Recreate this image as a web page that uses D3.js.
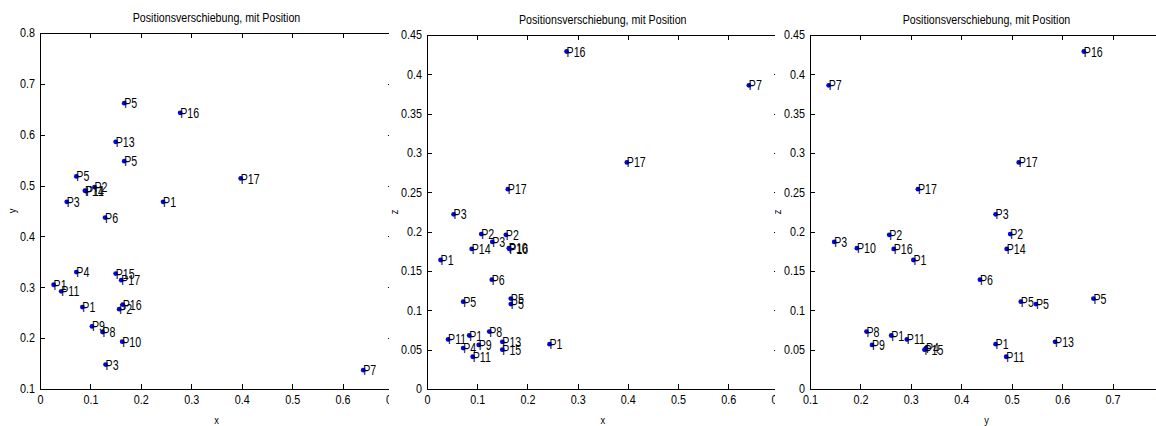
<!DOCTYPE html>
<html>
<head>
<meta charset="utf-8">
<script src="https://cdn.jsdelivr.net/npm/d3@7"></script>
<style>
body { margin: 0; background: #fff; }
svg text { font-family: "Liberation Sans", Arial, sans-serif; fill: #000; }
</style>
</head>
<body>
<svg id="mainsvg" width="1156" height="426"></svg>
<script>
// point labels and 3D coordinates (read from the three projections)
const names = ['P1','P1','P1','P2','P2','P3','P3','P4','P5','P5','P5','P6','P7','P8','P9','P10',
               'P11','P11','P13','P14','P15','P16','P16','P17','P17'];
const xs = [0.027,0.084,0.244,0.108,0.157,0.053,0.130,0.072,0.167,0.167,0.072,0.129,0.641,0.124,0.103,0.163,
            0.042,0.091,0.150,0.089,0.150,0.278,0.164,0.398,0.161];
const ys = [0.305,0.261,0.468,0.497,0.257,0.468,0.148,0.330,0.662,0.548,0.518,0.437,0.137,0.212,0.223,0.193,
            0.292,0.489,0.586,0.490,0.327,0.643,0.266,0.514,0.314];
const zs = [0.164,0.068,0.057,0.197,0.196,0.222,0.187,0.052,0.115,0.108,0.111,0.139,0.386,0.073,0.056,0.179,
            0.063,0.041,0.060,0.178,0.050,0.429,0.178,0.288,0.254];

const title = 'Positionsverschiebung, mit Position';
const xTicks1 = [0,0.1,0.2,0.3,0.4,0.5,0.6,0.7];
const yTicks1 = [0.1,0.2,0.3,0.4,0.5,0.6,0.7,0.8];
const zTicks = [0,0.05,0.1,0.15,0.2,0.25,0.3,0.35,0.4,0.45];
const yTicks3 = [0.1,0.2,0.3,0.4,0.5,0.6,0.7,0.8];

let svg = d3.select('#mainsvg');
const fmt = d => String(+d.toFixed(2));

const panels = [
  {h: xs, v: ys, hdom: [0,0.7], vdom: [0.1,0.8], ht: xTicks1, vt: yTicks1, hl: 'x', vl: 'y',
   x0: 40, x1: 393, top: 33, bot: 389, clipL: 0, clipR: 389, vlx: 12},
  {h: xs, v: zs, hdom: [0,0.7], vdom: [0,0.45], ht: xTicks1, vt: zTicks, hl: 'x', vl: 'z',
   x0: 427, x1: 778.5, top: 35, bot: 389, clipL: 389, clipR: 775, vlx: 394},
  {h: ys, v: zs, hdom: [0.1,0.8], vdom: [0,0.45], ht: yTicks3, vt: zTicks, hl: 'y', vl: 'z',
   x0: 810, x1: 1163, top: 35, bot: 389, clipL: 775, clipR: 1156, vlx: 777}
];

const defs = svg.append('defs');

panels.forEach((p, i) => {
  defs.append('clipPath').attr('id', 'clip' + i)
    .append('rect').attr('x', p.clipL).attr('y', 0)
    .attr('width', p.clipR - p.clipL).attr('height', 426);

  const g = svg.append('g').attr('clip-path', `url(#clip${i})`);

  const hx = d3.scaleLinear().domain(p.hdom).range([p.x0, p.x1]);
  const vy = d3.scaleLinear().domain(p.vdom).range([p.bot, p.top]);

  const styleAxis = sel => {
    sel.selectAll('path, line').attr('stroke', '#000').attr('shape-rendering', 'crispEdges');
    sel.selectAll('text').attr('font-size', 12).attr('fill', '#000');
  };

  // bottom + left with labels, top + right only ticks (all inward)
  g.append('g').attr('transform', `translate(0,${p.bot})`)
    .call(d3.axisBottom(hx).tickValues(p.ht).tickFormat(fmt).tickSize(-5).tickSizeOuter(0).tickPadding(6))
    .call(styleAxis)
    .selectAll('text').attr('transform', 'scale(0.9,1)');
  g.append('g').attr('transform', `translate(0,${p.top})`)
    .call(d3.axisTop(hx).tickValues(p.ht).tickFormat('').tickSize(-5).tickSizeOuter(0))
    .call(styleAxis);
  g.append('g').attr('transform', `translate(${p.x0},0)`)
    .call(d3.axisLeft(vy).tickValues(p.vt).tickFormat(fmt).tickSize(-5).tickSizeOuter(0).tickPadding(5))
    .call(styleAxis)
    .selectAll('text').attr('transform', 'scale(0.9,1)');
  g.append('g').attr('transform', `translate(${p.x1},0)`)
    .call(d3.axisRight(vy).tickValues(p.vt).tickFormat('').tickSize(-5).tickSizeOuter(0))
    .call(styleAxis);

  // keep scaled tick labels anchored at their own position
  g.selectAll('.tick text').attr('transform-origin', function() {
    return `${d3.select(this).attr('x') || 0} ${d3.select(this).attr('y') || 0}`;
  });

  // title
  const cx = (p.x0 + p.x1) / 2;
  g.append('text').attr('transform', `translate(${cx},${p.top - 11}) scale(0.82,1)`)
    .attr('text-anchor', 'middle').attr('font-size', 13).text(title);

  // axis labels
  g.append('text').attr('transform', `translate(${cx},${p.bot + 35}) scale(0.85,1)`)
    .attr('text-anchor', 'middle').attr('font-size', 11).text(p.hl);
  g.append('text').attr('transform', `translate(${p.vlx},${(p.top + p.bot) / 2}) rotate(-90) scale(0.85,1)`)
    .attr('text-anchor', 'middle').attr('dy', '0.35em').attr('font-size', 11).text(p.vl);

  // points + labels
  const pts = g.append('g').selectAll('g').data(names.map((n, k) => ({n, h: p.h[k], v: p.v[k]})))
    .enter().append('g')
    .attr('transform', d => `translate(${hx(d.h)},${vy(d.v)})`);
  pts.append('circle').attr('r', 2.4).attr('fill', '#0000ff');
  pts.append('text').attr('transform', 'scale(0.76,1)')
    .attr('x', 0).attr('dy', '0.36em').attr('font-size', 14).text(d => d.n);
});
</script>
</body>
</html>
